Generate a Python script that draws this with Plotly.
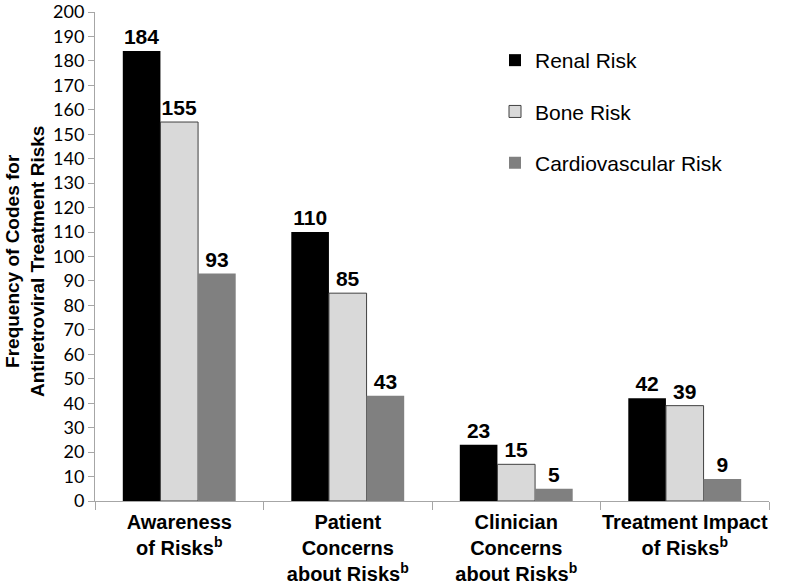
import plotly.graph_objects as go

categories = ["Awareness<br>of Risks<sup>b</sup>",
              "Patient<br>Concerns<br>about Risks<sup>b</sup>",
              "Clinician<br>Concerns<br>about Risks<sup>b</sup>",
              "Treatment Impact<br>of Risks<sup>b</sup>"]
renal = [184, 110, 23, 42]
bone = [155, 85, 15, 39]
cardio = [93, 43, 5, 9]
series_names = ["Renal Risk", "Bone Risk", "Cardiovascular Risk"]
y_title = "Frequency of Codes for<br>Antiretroviral Treatment Risks"
colors = ["#000000", "#d9d9d9", "#808080"]
line_colors = ["#000000", "#404040", "#808080"]
line_widths = [0, 1, 0]

W, H = 786, 584
ML, MR, MT, MB = 95, 17, 12, 83
PW, PH = W - ML - MR, H - MT - MB

fig = go.Figure()
for i, (name, vals) in enumerate(zip(series_names, [renal, bone, cardio])):
    fig.add_trace(go.Bar(
        x=categories, y=vals, name=name,
        marker=dict(color=colors[i], line=dict(color=line_colors[i], width=line_widths[i])),
        text=[str(v) for v in vals], textposition="outside",
        textfont=dict(family="Arial", size=21, color="#000000", weight="bold"),
        cliponaxis=False, legendgroup=name,
    ))

fig.add_annotation(
    text=y_title, xref="paper", yref="paper",
    x=(25 - ML) / PW, y=1 - (262 - MT) / PH, xanchor="center", yanchor="middle",
    textangle=-90, showarrow=False,
    font=dict(family="Arial", size=19, color="#000000", weight="bold"),
)

fig.update_layout(
    width=W, height=H,
    margin=dict(l=ML, r=MR, t=MT, b=MB),
    plot_bgcolor="white", paper_bgcolor="white",
    barmode="group", bargap=0.33, bargroupgap=0,
    font=dict(family="Arial", color="#000000"),
    legend=dict(x=(495 - ML) / PW, y=1 - (40 - MT) / PH, xanchor="left", yanchor="top",
                font=dict(family="Arial", size=21, color="#000000"),
                tracegroupgap=21, bgcolor="rgba(0,0,0,0)", itemwidth=30),
    yaxis=dict(range=[0, 200], dtick=10, showgrid=False, zeroline=False,
               showline=True, linecolor="#a6a6a6", linewidth=1,
               ticks="outside", ticklen=6, tickcolor="#a6a6a6",
               tickfont=dict(family="Lato", size=18, color="#000000"),
               automargin=False),
    xaxis=dict(showgrid=False, showline=True, linecolor="#a6a6a6", linewidth=1,
               ticks="outside", ticklen=8, tickcolor="#a6a6a6", tickson="boundaries",
               tickangle=0, ticklabelstandoff=3,
               tickfont=dict(family="Arial", size=20, color="#000000", weight="bold"),
               automargin=False),
)

fig.write_html("out.html", config={"displayModeBar": False},
               post_script="document.body.style.margin='0';")
